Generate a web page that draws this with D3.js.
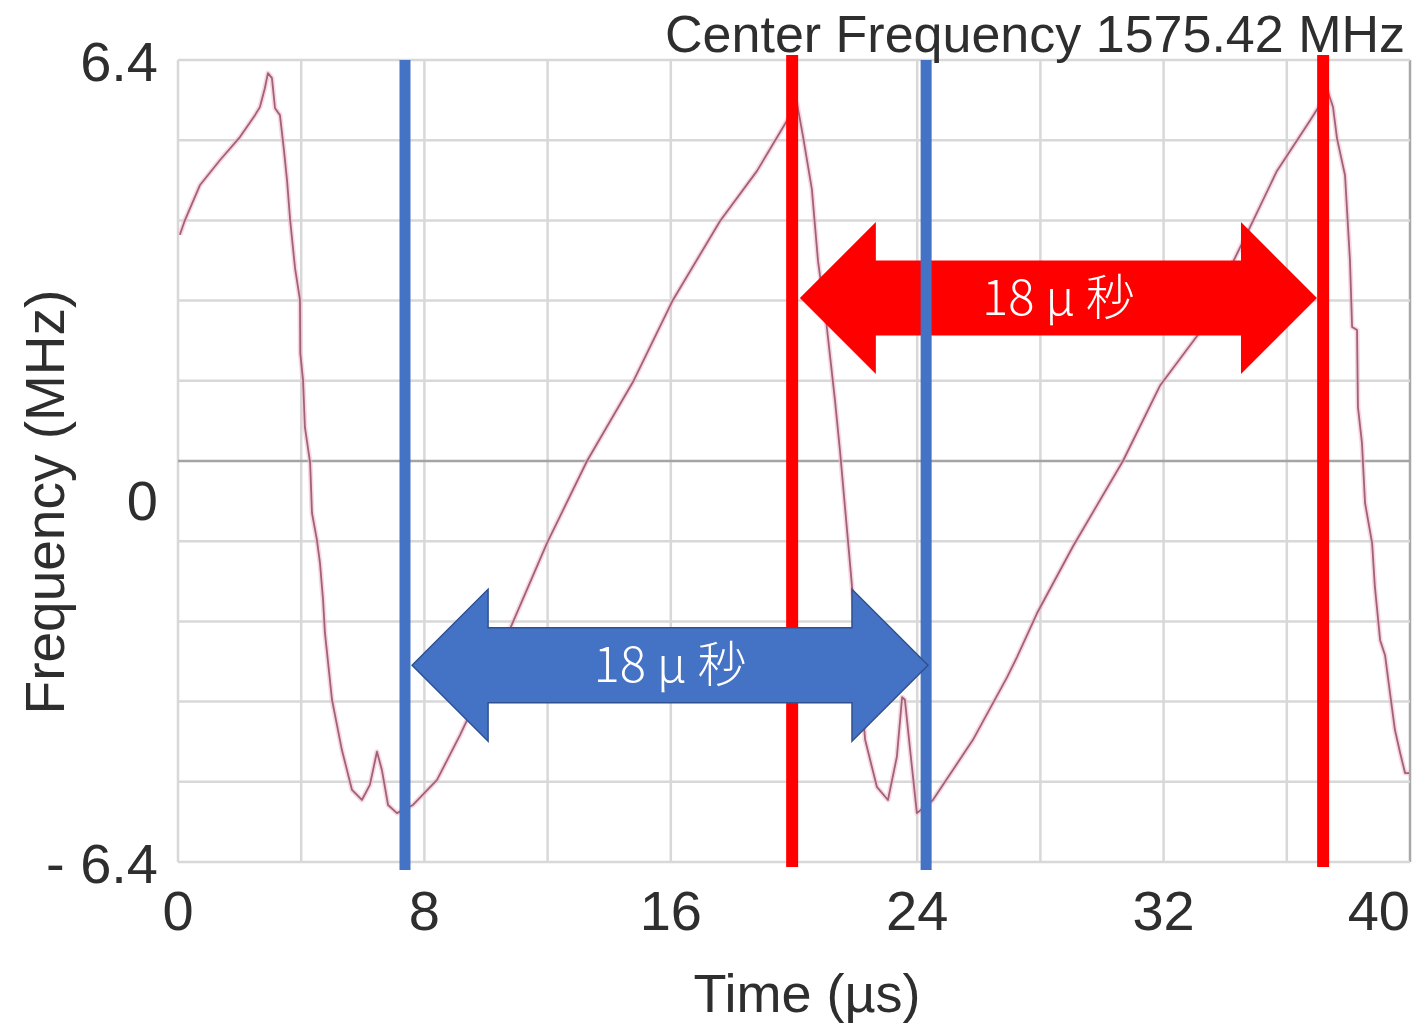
<!DOCTYPE html>
<html>
<head>
<meta charset="utf-8">
<script src="https://cdn.jsdelivr.net/npm/d3@7"></script>
<style>
  body { margin: 0; background: #fff; }
  svg text { font-family: "Liberation Sans", Arial, sans-serif; }
</style>
</head>
<body>
<div class="chart"></div>
<script>
// frequency trace (time in us, frequency offset in MHz)
var timeUs = [0.06, 0.23, 0.71, 1.36, 2.01, 2.50, 2.66, 2.82, 2.92, 3.05,
  3.15, 3.31, 3.44, 3.54, 3.64, 3.80, 3.96, 3.97, 4.06, 4.12,
  4.29, 4.35, 4.51, 4.61, 4.71, 4.77, 5.00, 5.32, 5.65, 5.97,
  6.23, 6.46, 6.62, 6.82, 7.11, 7.63, 8.41, 9.16, 10.78, 11.98,
  13.28, 14.77, 16.07, 17.60, 18.80, 19.77, 20.10, 20.29, 20.58, 20.78,
  21.04, 21.33, 21.49, 21.75, 21.98, 22.31, 22.69, 23.05, 23.34, 23.51,
  23.60, 23.77, 23.99, 24.51, 25.81, 26.92, 27.24, 27.89, 29.06, 30.68,
  31.88, 33.08, 34.90, 35.68, 36.75, 37.34, 37.50, 37.63, 37.89, 37.95,
  38.05, 38.12, 38.28, 38.31, 38.44, 38.54, 38.77, 38.86, 39.03, 39.19,
  39.35, 39.51, 39.68, 39.84, 39.97];
var freqMHz = [3.61, 3.85, 4.40, 4.80, 5.17, 5.52, 5.65, 5.95, 6.19, 6.11,
  5.63, 5.52, 4.96, 4.48, 3.85, 3.08, 2.57, 1.72, 1.29, 0.54,
  -0.03, -0.83, -1.26, -1.63, -2.22, -2.74, -3.81, -4.61, -5.25, -5.41,
  -5.17, -4.64, -4.93, -5.49, -5.62, -5.49, -5.09, -4.37, -2.68, -1.31,
  0.00, 1.26, 2.57, 3.83, 4.63, 5.43, 5.70, 5.19, 4.34, 3.19,
  2.25, 0.97, 0.18, -1.26, -2.54, -4.45, -5.20, -5.41, -4.72, -3.77,
  -3.81, -4.61, -5.62, -5.41, -4.45, -3.45, -3.13, -2.43, -1.36, 0.00,
  1.20, 1.99, 3.83, 4.63, 5.43, 5.89, 5.65, 5.15, 4.56, 4.05,
  3.21, 2.14, 2.09, 0.86, 0.29, -0.67, -1.31, -2.01, -2.86, -3.10,
  -3.70, -4.29, -4.66, -4.98, -4.98];

var xTicks = [0, 8, 16, 24, 32, 40];
var yTicks = [6.4, 0, -6.4];
var yTickLabels = ["6.4", "0", "- 6.4"];
var xGrid = [0, 4, 8, 12, 16, 20, 24, 28, 32, 36, 40];
var yGrid = [-6.4, -5.12, -3.84, -2.56, -1.28, 0, 1.28, 2.56, 3.84, 5.12, 6.4];

// annotation markers (us) and the 18 us period arrows
var blueMarks = [7.37, 24.29];
var redMarks = [19.94, 37.18];
var blueSpan = [7.6, 24.35], blueSpanF = -3.26;
var redSpan = [20.19, 36.98], redSpanF = 2.60;
var spanLabel = "18 \u03bc 秒";

var width = 1417, height = 1026;
var margin = {top: 60, right: 7, bottom: 164, left: 178};

var svg = d3.select(".chart").append("svg")
  .attr("width", width)
  .attr("height", height)
  .style("background", "#fff");

var x = d3.scaleLinear().domain([0, 40]).range([margin.left, width - margin.right]);
var y = d3.scaleLinear().domain([-6.4, 6.4]).range([862, margin.top]);

// grid
var grid = svg.append("g").attr("class", "grid");
grid.selectAll("line.v")
  .data(xGrid)
  .enter().append("line")
  .attr("class", "v")
  .attr("x1", function(d) { return x(d); })
  .attr("x2", function(d) { return x(d); })
  .attr("y1", y(6.4))
  .attr("y2", y(-6.4))
  .attr("stroke", function(d) { return d === 40 ? "#a8a8a8" : "#d8d8d8"; })
  .attr("stroke-width", 2.5);

grid.selectAll("line.h")
  .data(yGrid)
  .enter().append("line")
  .attr("class", "h")
  .attr("x1", x(0))
  .attr("x2", x(40))
  .attr("y1", function(d) { return y(d); })
  .attr("y2", function(d) { return y(d); })
  .attr("stroke", function(d) { return d === 0 ? "#a4a4a4" : "#d8d8d8"; })
  .attr("stroke-width", 2.5);

// trace
var pts = timeUs.map(function(t, i) { return [t, freqMHz[i]]; });
var line = d3.line()
  .x(function(d) { return x(d[0]); })
  .y(function(d) { return y(d[1]); });

svg.append("path")
  .datum(pts)
  .attr("fill", "none")
  .attr("stroke", "#f4bccb")
  .attr("stroke-width", 5)
  .attr("stroke-linejoin", "round")
  .attr("opacity", 0.6)
  .attr("d", line);

svg.append("path")
  .datum(pts)
  .attr("fill", "none")
  .attr("stroke", "#a0627a")
  .attr("stroke-width", 1.8)
  .attr("stroke-linejoin", "round")
  .attr("d", line);

// double headed arrow with label
function drawArrow(span, f, fill, stroke, label) {
  var x0 = x(span[0]), x1 = x(span[1]), yc = y(f);
  var hl = 76, hh = 76, sh = 37.5;
  var p = [
    [x0, yc], [x0 + hl, yc - hh], [x0 + hl, yc - sh], [x1 - hl, yc - sh],
    [x1 - hl, yc - hh], [x1, yc], [x1 - hl, yc + hh], [x1 - hl, yc + sh],
    [x0 + hl, yc + sh], [x0 + hl, yc + hh]
  ];
  var g = svg.append("g").attr("class", "arrow");
  g.append("path")
    .attr("d", "M" + p.join("L") + "Z")
    .attr("fill", fill)
    .attr("stroke", stroke)
    .attr("stroke-width", stroke === "none" ? 0 : 1.5);
  g.append("text")
    .attr("x", (x0 + x1) / 2)
    .attr("y", yc)
    .attr("dy", "0.35em")
    .attr("text-anchor", "middle")
    .style("font-family", "'Noto Sans CJK JP', sans-serif")
    .style("font-weight", 300)
    .style("font-size", "49px")
    .attr("fill", "#fff")
    .text(label);
}

drawArrow(redSpan, redSpanF, "#ff0000", "none", spanLabel);

svg.selectAll("line.blue")
  .data(blueMarks)
  .enter().append("line")
  .attr("class", "blue")
  .attr("x1", function(d) { return x(d); })
  .attr("x2", function(d) { return x(d); })
  .attr("y1", 60)
  .attr("y2", 870)
  .attr("stroke", "#4472c4")
  .attr("stroke-width", 11);

svg.selectAll("line.red")
  .data(redMarks)
  .enter().append("line")
  .attr("class", "red")
  .attr("x1", function(d) { return x(d); })
  .attr("x2", function(d) { return x(d); })
  .attr("y1", 55)
  .attr("y2", 867)
  .attr("stroke", "#ff0000")
  .attr("stroke-width", 12);

drawArrow(blueSpan, blueSpanF, "#4472c4", "#2f528f", spanLabel);

// tick labels
svg.selectAll("text.xt")
  .data(xTicks)
  .enter().append("text")
  .attr("class", "xt")
  .attr("x", function(d) { return x(d); })
  .attr("y", 930)
  .attr("text-anchor", function(d) { return d === 40 ? "end" : "middle"; })
  .style("font-size", "56px")
  .attr("fill", "#2e2e2e")
  .text(function(d) { return d; });

svg.selectAll("text.yt")
  .data(yTicks)
  .enter().append("text")
  .attr("class", "yt")
  .attr("x", 158)
  .attr("y", function(d) { return y(d); })
  .attr("dy", function(d) { return d === 0 ? "1.05em" : "0.38em"; })
  .attr("text-anchor", "end")
  .style("font-size", "56px")
  .attr("fill", "#2e2e2e")
  .text(function(d, i) { return yTickLabels[i]; });

// titles
svg.append("text")
  .attr("x", 1405)
  .attr("y", 52)
  .attr("text-anchor", "end")
  .style("font-size", "52px")
  .attr("fill", "#2e2e2e")
  .text("Center Frequency 1575.42 MHz");

svg.append("text")
  .attr("x", 807)
  .attr("y", 1012)
  .attr("text-anchor", "middle")
  .style("font-size", "54px")
  .attr("fill", "#2e2e2e")
  .text("Time (\u00b5s)");

svg.append("text")
  .attr("transform", "translate(64,502) rotate(-90)")
  .attr("text-anchor", "middle")
  .style("font-size", "55px")
  .attr("fill", "#2e2e2e")
  .text("Frequency (MHz)");
</script>
</body>
</html>
